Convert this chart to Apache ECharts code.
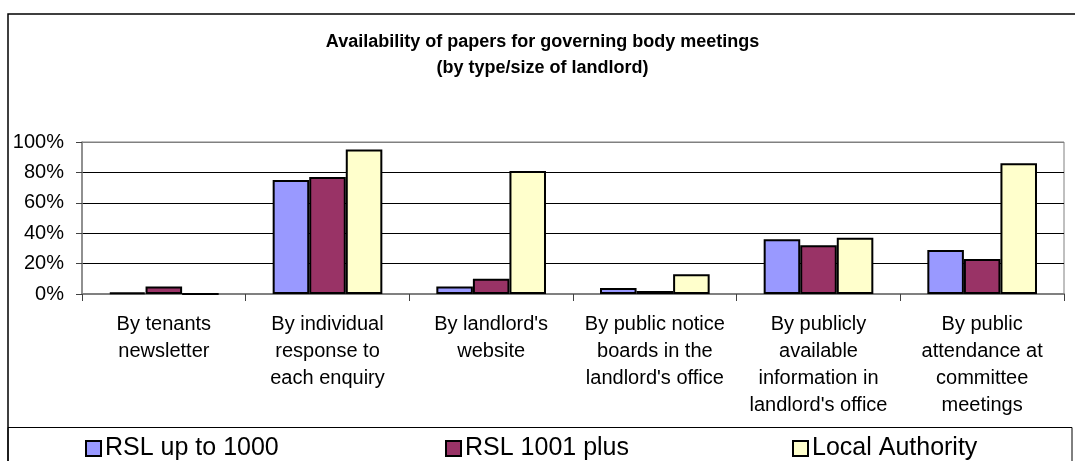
<!DOCTYPE html>
<html>
<head>
<meta charset="utf-8">
<title>Availability of papers for governing body meetings</title>
<script src="https://cdn.jsdelivr.net/npm/echarts@6/dist/echarts.min.js"></script>
<style>
  html, body { margin: 0; padding: 0; background: #ffffff; }
  #chart { width: 1075px; height: 461px; }
</style>
</head>
<body>
<div id="chart"></div>
<script>
// Ways papers are made available, one group of bars per method
const categories = [
  "By tenants\nnewsletter",
  "By individual\nresponse to\neach enquiry",
  "By landlord's\nwebsite",
  "By public notice\nboards in the\nlandlord's office",
  "By publicly\navailable\ninformation in\nlandlord's office",
  "By public\nattendance at\ncommittee\nmeetings"
];

// Share of landlords (%) in each group
const seriesNames = ["RSL up to 1000", "RSL 1001 plus", "Local Authority"];
const rslUpTo1000 = [1, 75, 5, 4, 36, 29];
const rsl1001Plus = [5, 77, 10, 2, 32, 23];
const localAuthority = [0, 95, 81, 13, 37, 86];

// Value axis ticks
const yTicks = [0, 20, 40, 60, 80, 100];

const FONT = "'Liberation Sans', Arial, Helvetica, sans-serif";
const fills = ["#9999FF", "#993366", "#FFFFCC"];
const values = [rslUpTo1000, rsl1001Plus, localAuthority];

const chart = echarts.init(document.getElementById("chart"), null, { renderer: "canvas" });

const series = seriesNames.map((name, i) => ({
  name: name,
  type: "bar",
  data: values[i],
  barGap: "0%",
  barCategoryGap: "33%",
  itemStyle: { color: fills[i], borderColor: "#000000", borderWidth: 2 },
  emphasis: { disabled: true }
}));

// Each legend entry is placed on its own
const legendLeft = [85, 445, 792];
const legends = seriesNames.map((name, i) => ({
  data: [name],
  left: legendLeft[i],
  top: 436,
  padding: 0,
  icon: "rect",
  itemWidth: 15,
  itemHeight: 15,
  itemGap: 0,
  selectedMode: false,
  textStyle: { fontFamily: FONT, fontSize: 25, color: "#000000", padding: [0, 0, 0, -1] }
}));

chart.setOption({
  animation: false,
  backgroundColor: "#ffffff",
  textStyle: { fontFamily: FONT },
  title: {
    text: "Availability of papers for governing body meetings\n(by type/size of landlord)",
    left: "50%",
    top: 24,
    textAlign: "center",
    textStyle: {
      fontFamily: FONT,
      fontSize: 18,
      fontWeight: "bold",
      color: "#000000",
      lineHeight: 26,
      align: "center"
    }
  },
  legend: legends,
  grid: {
    left: 82,
    right: 11,
    top: 142,
    bottom: 167,
    show: true,
    borderColor: "#808080",
    borderWidth: 1,
    backgroundColor: "transparent"
  },
  xAxis: {
    type: "category",
    data: categories,
    axisLine: { lineStyle: { color: "#808080", width: 2 } },
    axisTick: { show: true, length: 7, lineStyle: { color: "#404040", width: 1 } },
    axisLabel: {
      interval: 0,
      margin: 17,
      fontFamily: FONT,
      fontSize: 20,
      lineHeight: 27,
      color: "#000000",
      align: "center"
    },
    splitLine: { show: false }
  },
  yAxis: {
    type: "value",
    min: yTicks[0],
    max: yTicks[yTicks.length - 1],
    interval: yTicks[1] - yTicks[0],
    axisLine: { show: true, lineStyle: { color: "#808080", width: 1.5 } },
    axisTick: { show: true, length: 6, lineStyle: { color: "#404040", width: 1 } },
    axisLabel: {
      margin: 18,
      fontFamily: FONT,
      fontSize: 20,
      color: "#000000",
      formatter: "{value}%"
    },
    splitLine: {
      show: true,
      lineStyle: {
        color: ["#808080", "#000000", "#000000", "#000000", "#000000", "#808080"],
        width: 1
      }
    }
  },
  graphic: [
    {
      type: "rect",
      silent: true,
      z: -1,
      shape: { x: 8, y: 14, width: 1100, height: 500 },
      style: { fill: null, stroke: "#000000", lineWidth: 1.5 }
    },
    {
      type: "rect",
      silent: true,
      z: -1,
      shape: { x: 8, y: 427.5, width: 1064, height: 60 },
      style: { fill: null, stroke: "#000000", lineWidth: 1 }
    }
  ],
  series: series
});
</script>
</body>
</html>
